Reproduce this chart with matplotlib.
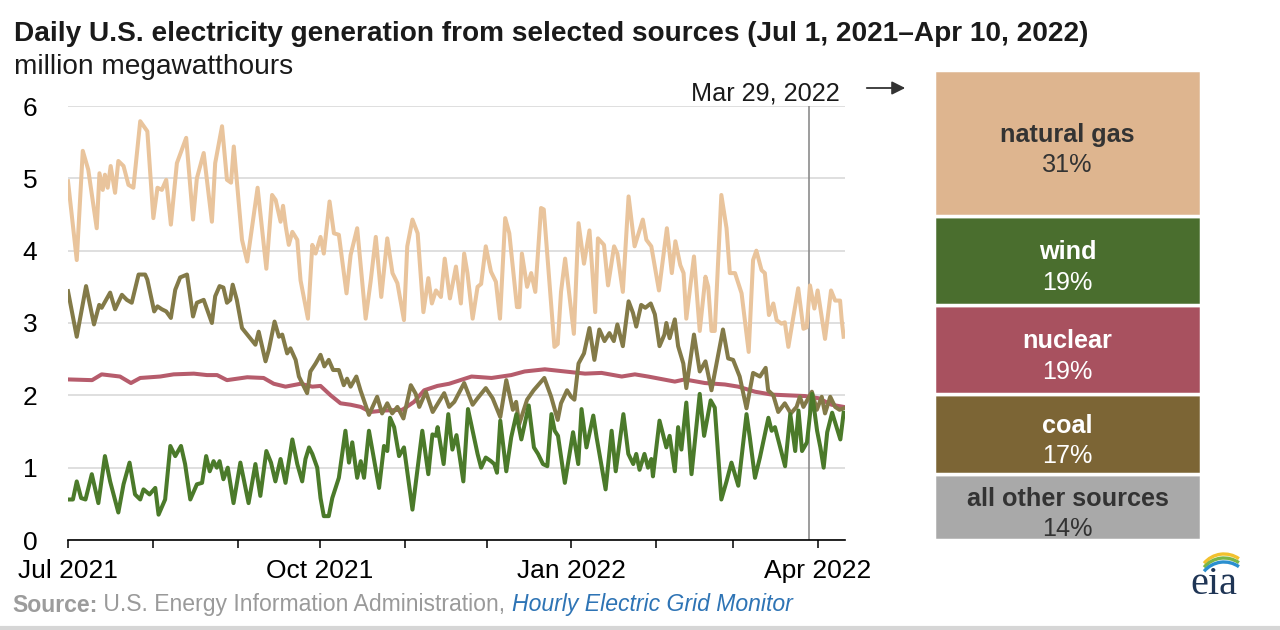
import numpy as np
import pandas as pd
import matplotlib
matplotlib.use("Agg")
import matplotlib.pyplot as plt
import matplotlib.dates as mdates
from matplotlib.patches import Arc

plt.rcParams['font.family'] = ['Liberation Sans', 'DejaVu Sans']

# readings taken off the reference chart: days after Jul 1, 2021 and million MWh
gas_day = [0, 3.2, 5.4, 7.4, 10.5, 11.5, 12.7, 13.5, 14.5, 15.6,
           17.2, 18.4, 20.3, 22.1, 23.9, 26.4, 29, 31.2, 32.7, 34.3,
           35.9, 37.6, 39.8, 43.2, 45.7, 47.1, 49.6, 52.6, 53.8, 56.3,
           58.1, 59.6, 60.6, 63.6, 65.5, 69.3, 72.5, 74.6, 75.9, 77.7,
           78.6, 79.6, 80.7, 82, 83.8, 85, 87.7, 89.3, 90.5, 92.3,
           93.5, 95.6, 97.2, 99, 101.8, 103.3, 105.7, 108.8, 110.6, 112.5,
           114.5, 116.7, 118.6, 120.4, 122.8, 124, 125.9, 127.8, 129.9, 131.7,
           133, 134.5, 136.3, 137.7, 139.6, 141.8, 143.6, 144.8, 146, 147.9,
           149.7, 151, 152.7, 154.6, 156.4, 157.9, 159.8, 161.3, 164.1, 165,
           165.9, 167.8, 169.3, 170.8, 172.9, 173.9, 177.8, 179, 180.2, 181.7,
           184.9, 186.6, 188.6, 190.6, 192.7, 193.7, 195.9, 197.4, 199.6, 200.8,
           202.8, 204.9, 207.1, 210.1, 211.4, 213.2, 214.5, 216, 218.9, 220.7,
           222, 223.8, 225, 226, 228.8, 230.9, 233, 234, 235.2, 236.4,
           238.8, 240.7, 241.9, 243.8, 246.2, 248.8, 250.4, 251.6, 253.5, 254.7,
           256.2, 257.8, 259, 260.8, 262, 263.3, 265.1, 266.9, 268.8, 270,
           271.2, 272.8, 274, 276.7, 278.9, 280.4, 282.2, 282.8, 283.5]
gas_val = [4.96, 3.87, 5.38, 5.12, 4.31, 5.07, 4.84, 5.05, 4.87, 5.17,
           4.80, 5.24, 5.17, 4.91, 4.87, 5.79, 5.65, 4.45, 4.87, 4.84,
           4.98, 4.36, 5.21, 5.56, 4.43, 5.0, 5.35, 4.40, 5.21, 5.72,
           4.98, 4.94, 5.44, 4.15, 3.85, 4.87, 3.75, 4.77, 4.70, 4.40,
           4.62, 4.33, 4.08, 4.26, 4.15, 3.59, 3.06, 4.08, 3.96, 4.19,
           3.96, 4.68, 4.24, 4.22, 3.41, 3.94, 4.31, 3.06, 3.57, 4.19,
           3.36, 4.17, 3.69, 3.55, 3.04, 4.06, 4.43, 4.24, 3.15, 3.62,
           3.27, 3.45, 3.36, 3.89, 3.34, 3.78, 3.27, 3.96, 3.69, 3.06,
           3.50, 3.54, 4.06, 3.71, 3.57, 3.06, 4.45, 4.24, 3.22, 3.22,
           3.96, 3.50, 3.69, 3.43, 4.59, 4.57, 2.67, 2.71, 3.43, 3.89,
           2.85, 4.38, 3.82, 4.28, 3.15, 4.17, 4.08, 3.52, 4.06, 3.96,
           3.43, 4.75, 4.06, 4.43, 4.15, 4.06, 3.78, 3.45, 4.31, 3.69,
           4.13, 3.80, 3.69, 3.06, 3.92, 2.89, 3.64, 3.50, 2.89, 2.89,
           4.77, 4.31, 3.69, 3.69, 3.41, 2.60, 3.87, 4.0, 3.73, 3.69,
           3.11, 3.27, 3.04, 2.99, 3.01, 2.67, 3.08, 3.48, 2.92, 2.94,
           3.52, 3.20, 3.45, 2.78, 3.45, 3.31, 3.31, 3.04, 2.81]

coal_day = [0, 3.2, 6.6, 9.5, 11.4, 12.3, 15.4, 17.2, 19.7, 21.5,
            23.3, 25.8, 28.2, 29, 31.5, 32.7, 34.3, 35.9, 37.6, 39.2,
            41, 43.5, 45.7, 47.1, 49.6, 52.6, 53.8, 55.4, 56.8, 58.1,
            59.3, 60.2, 61.7, 63.6, 65.5, 68.5, 69.7, 72.2, 73.4, 75.5,
            77.1, 78.3, 80.1, 81.3, 83.2, 84.4, 87.4, 88.6, 90.5, 92.3,
            93.7, 95.3, 96.9, 99, 100.8, 102, 103.3, 105.4, 106.9, 110,
            113, 114.8, 116.7, 118.5, 120.4, 122.6, 125.3, 127.1, 128.4, 130.8,
            133.3, 137.5, 139.3, 141.2, 144.8, 147.9, 149.7, 152.7, 155.2, 158,
            160.2, 162.6, 163.8, 164.9, 167.8, 170.2, 174.1, 176.6, 179, 180.2,
            182.4, 183.9, 185.1, 186.6, 188.6, 190.6, 192.4, 194.2, 196.1, 197.9,
            199.5, 200.8, 202.8, 204.9, 206.5, 207.7, 209.5, 211, 213, 214.5,
            216.2, 218, 218.7, 219.9, 221.8, 223, 224.9, 226, 228.8, 230.9,
            233, 235.2, 239.4, 241.3, 243.1, 245.5, 248, 250.4, 252.9, 255,
            255.9, 257.8, 259.6, 262, 264.2, 266.3, 267.5, 268.8, 270.6, 271.9,
            273.7, 275.5, 276.7, 278.6, 280.4, 282, 283.5]
coal_val = [3.44, 2.81, 3.51, 2.98, 3.25, 3.21, 3.42, 3.19, 3.39, 3.32,
            3.28, 3.67, 3.67, 3.60, 3.16, 3.23, 3.19, 3.16, 3.07, 3.46,
            3.63, 3.67, 3.09, 3.28, 3.32, 3.0, 3.37, 3.51, 3.49, 3.28,
            3.32, 3.53, 3.32, 2.93, 2.84, 2.70, 2.88, 2.47, 2.63, 3.02,
            2.81, 2.84, 2.58, 2.65, 2.49, 2.26, 2.03, 2.33, 2.44, 2.56,
            2.40, 2.49, 2.35, 2.35, 2.14, 2.23, 2.12, 2.26, 2.07, 1.73,
            1.98, 1.75, 1.89, 1.75, 1.84, 1.68, 2.14, 2.02, 1.84, 2.05,
            1.77, 2.03, 1.84, 1.91, 2.17, 1.87, 1.96, 2.10, 1.96, 1.70,
            2.21, 1.80, 1.91, 1.60, 1.94, 2.07, 2.24, 1.98, 1.66, 1.89,
            2.07, 1.98, 1.94, 2.44, 2.58, 2.93, 2.49, 2.91, 2.75, 2.86,
            2.75, 2.98, 2.68, 3.30, 3.14, 2.95, 3.25, 3.21, 3.27, 3.12,
            2.68, 2.84, 3.0, 2.79, 3.05, 2.68, 2.44, 2.10, 2.84, 2.33,
            2.47, 2.07, 2.91, 2.51, 2.49, 2.26, 1.82, 2.31, 2.26, 2.38,
            2.07, 2.0, 1.77, 1.89, 1.75, 1.84, 1.98, 1.84, 1.96, 2.05,
            1.80, 1.98, 1.75, 1.98, 1.84, 1.80, 1.82]

nuc_day = [0, 8.8, 12.3, 19, 23, 26.4, 33.7, 38.6, 46, 50.8,
           54.5, 58.1, 65.5, 71.5, 75.2, 79.5, 85, 89.3, 92.3, 96,
           99.6, 103.3, 107, 110.6, 115.5, 122.2, 126.5, 130.2, 135, 139.3,
           147.5, 154.8, 162, 166.9, 174.3, 181.6, 189, 195, 202.4, 207.2,
           212, 221.8, 225.4, 232.8, 240.1, 245, 251.1, 257.2, 263.3, 269.4,
           274.3, 279.1, 283.5]
nuc_val = [2.22, 2.21, 2.29, 2.26, 2.17, 2.24, 2.26, 2.29, 2.30, 2.28,
           2.28, 2.21, 2.25, 2.24, 2.16, 2.12, 2.16, 2.12, 2.13, 2.0,
           1.89, 1.87, 1.84, 1.77, 1.79, 1.80, 1.91, 2.07, 2.13, 2.16,
           2.26, 2.24, 2.28, 2.33, 2.36, 2.33, 2.30, 2.31, 2.26, 2.29,
           2.26, 2.19, 2.22, 2.17, 2.15, 2.12, 2.05, 2.01, 2.0, 1.99,
           1.96, 1.87, 1.84]

wind_day = [0, 1.8, 3.2, 4.8, 6.4, 8.7, 11.1, 13.5, 15.4, 18.4,
            20.3, 22.5, 24.5, 26.4, 27.6, 29.8, 31.9, 33.1, 35.5, 37.4,
            39.2, 41.3, 42.8, 44.7, 47.1, 49, 50.5, 51.8, 53.2, 54.4,
            55.4, 56.8, 58.4, 60.5, 63, 66, 68.5, 70.3, 72.5, 74.2,
            75.8, 77.7, 79.5, 82, 83.8, 85.6, 86.8, 88.1, 89.3, 91.1,
            92.3, 93.5, 95.3, 96.6, 99, 101.4, 102.7, 103.9, 105.7, 107,
            108.2, 110, 113.7, 115.5, 116.7, 117.7, 119.2, 121, 122.8, 125.9,
            129.5, 131.7, 133.2, 134.5, 135.1, 137.3, 139, 140.5, 142, 144.5,
            146.2, 147.9, 149.7, 151, 152.7, 154.6, 155.8, 156.8, 158, 160.2,
            162, 163.9, 165.7, 168.4, 170.3, 171.8, 173.6, 175.2, 176.7, 177.9,
            179.1, 181.6, 184.6, 186.5, 187.7, 189.5, 192, 193.2, 196.5, 198.7,
            200.2, 203, 204.8, 206.6, 207.7, 208.9, 210.7, 212, 213.2, 213.8,
            216.2, 218.7, 219.9, 221.8, 223, 224.2, 226, 227.9, 230.9, 232.5,
            234.9, 236.4, 238.8, 240.7, 242.5, 245, 248, 249.2, 251.1, 252.9,
            256, 257.2, 258.4, 262.1, 264, 265.8, 267, 268.3, 270.1, 272,
            273.8, 275, 276.2, 277.5, 279.3, 282.3, 283.5]
wind_val = [0.56, 0.56, 0.81, 0.58, 0.56, 0.91, 0.51, 1.16, 0.81, 0.38,
            0.77, 1.07, 0.63, 0.56, 0.70, 0.63, 0.72, 0.35, 0.56, 1.30,
            1.16, 1.30, 1.05, 0.56, 0.77, 0.79, 1.16, 0.95, 1.09, 1.0,
            1.09, 0.84, 1.0, 0.51, 1.07, 0.51, 1.05, 0.61, 1.23, 1.07,
            0.81, 1.12, 0.79, 1.39, 1.05, 0.81, 1.12, 1.28, 1.19, 1.0,
            0.58, 0.33, 0.33, 0.58, 0.86, 1.51, 1.07, 1.35, 0.86, 1.09,
            0.86, 1.51, 0.72, 1.30, 1.23, 1.69, 1.56, 1.16, 1.28, 0.42,
            1.51, 0.91, 1.46, 1.44, 1.56, 1.05, 1.74, 1.25, 1.45, 0.81,
            1.81, 1.51, 1.19, 1.0, 1.14, 1.09, 1.05, 0.93, 1.65, 0.95,
            1.42, 1.74, 1.39, 1.86, 1.28, 1.19, 1.05, 1.02, 1.74, 1.51,
            1.44, 0.79, 1.49, 1.05, 1.81, 1.28, 1.72, 1.42, 0.70, 1.51,
            0.95, 1.74, 1.19, 1.05, 1.19, 0.97, 1.19, 1.0, 1.12, 0.88,
            1.65, 1.28, 1.44, 0.95, 1.56, 1.25, 1.90, 0.91, 2.02, 1.44,
            1.93, 1.83, 0.56, 0.81, 1.07, 0.75, 1.74, 1.42, 0.86, 1.14,
            1.69, 1.51, 1.56, 1.02, 1.74, 1.23, 1.79, 1.23, 1.35, 2.02,
            1.51, 1.28, 1.0, 1.49, 1.76, 1.39, 1.76]

# generation shares on Mar 29, 2022 (bottom to top)
share_names = ["all other sources", "coal", "nuclear", "wind", "natural gas"]
share_pct = [14, 17, 19, 19, 31]

start = pd.Timestamp("2021-07-01")
marker_date = pd.Timestamp("2022-03-29")
end_date = pd.Timestamp("2022-04-11")

W, H = 1280, 630
fig = plt.figure(figsize=(W / 100, H / 100), dpi=100)


def dates(days):
    return start + pd.to_timedelta(np.array(days), unit="D")


ax = fig.add_axes([68 / W, 1 - 540 / H, (845 - 68) / W, (540 - 106) / H])
ax.plot(dates(gas_day), gas_val, color="#e9c49c", lw=2.9, solid_joinstyle="round")
ax.plot(dates(nuc_day), nuc_val, color="#b65c6c", lw=2.9, solid_joinstyle="round")
ax.plot(dates(coal_day), coal_val, color="#837a48", lw=2.9, solid_joinstyle="round")
ax.plot(dates(wind_day), wind_val, color="#4b7a2a", lw=2.9, solid_joinstyle="round")
ax.axvline(marker_date, color="#8c8c8c", lw=1.2, zorder=1)

ax.set_ylim(0, 6)
ax.set_xlim(start, end_date)
ax.set_yticks(range(7))
ax.grid(axis="y", color="#d9d9d9", lw=1.2)
ax.set_axisbelow(True)
for s in ["top", "right", "left"]:
    ax.spines[s].set_visible(False)
ax.spines["bottom"].set_color("black")
ax.spines["bottom"].set_linewidth(1.2)
ax.xaxis.set_major_locator(mdates.MonthLocator(bymonth=[1, 4, 7, 10]))
ax.xaxis.set_major_formatter(mdates.DateFormatter("%b %Y"))
ax.xaxis.set_minor_locator(mdates.MonthLocator())
ax.tick_params(axis="x", which="both", length=6, width=1.1, color="black")
ax.tick_params(axis="x", which="major", labelsize=19, pad=8)
ax.tick_params(axis="y", length=0, labelsize=19, pad=22)

# titles
fig.text(14 / W, 1 - 34 / H,
         "Daily U.S. electricity generation from selected sources (Jul 1, 2021\u2013Apr 10, 2022)",
         fontsize=20.2, weight="bold", va="center", color="#1a1a1a")
fig.text(14 / W, 1 - 67 / H, "million megawatthours", fontsize=20.2, va="center", color="#1a1a1a")

# marker label + arrow
fig.text(840 / W, 1 - 93 / H, "Mar 29, 2022", fontsize=18.2, ha="right", va="center", color="#1a1a1a")
fig.patches.append(matplotlib.patches.FancyArrowPatch(
    (864 / W, 1 - 88 / H), (908 / W, 1 - 88 / H), transform=fig.transFigure,
    arrowstyle="-|>", mutation_scale=20, color="#333333", lw=1.3))

# share panel
pax = fig.add_axes([934 / W, 1 - 540 / H, 267 / W, 470 / H])
box_colors = ["#a9a9a9", "#7c6535", "#a8515f", "#4a6e2e", "#deb58f"]
text_colors = ["#333333", "white", "white", "white", "#333333"]
bottom = 0
for name, pct, bc, tc in zip(share_names, share_pct, box_colors, text_colors):
    pax.bar(0, pct, bottom=bottom, width=1, color=bc, edgecolor="white", linewidth=2.5)
    mid = bottom + pct / 2
    pax.annotate(name, (0, mid), xytext=(0, 6), textcoords="offset points",
                 ha="center", va="center", fontsize=18.2, weight="bold", color=tc)
    pax.annotate(f"{pct}%", (0, mid), xytext=(0, -16), textcoords="offset points",
                 ha="center", va="center", fontsize=18.2, color=tc)
    bottom += pct
pax.set_xlim(-0.5, 0.5)
pax.set_ylim(0, 100)
pax.axis("off")

# source line
fig.canvas.draw()
r = fig.canvas.get_renderer()
x = 12
parts = [("Source:", dict(weight="bold", color="#9c9c9c")),
         (" U.S. Energy Information Administration, ", dict(color="#9a9a9a")),
         ("Hourly Electric Grid Monitor", dict(style="italic", color="#2e74b5"))]
for txt, kw in parts:
    t = fig.text(x / W, 1 - 605 / H, txt, fontsize=16.6, va="center", **kw)
    bb = t.get_window_extent(r)
    x += bb.width

# bottom rule
fig.add_artist(plt.Line2D([0, 1], [2 / H, 2 / H], transform=fig.transFigure, color="#d6d6d6", lw=3))

# eia logo
lax = fig.add_axes([1180 / W, 1 - 600 / H, 70 / W, 60 / H])
lax.set_xlim(0, 70)
lax.set_ylim(0, 60)
lax.set_aspect("equal")
lax.axis("off")
for dy, col in [(0, "#f2c12e"), (-4, "#7ab648"), (-8, "#2a8fcf")]:
    lax.add_patch(Arc((44, 20 + dy), 52, 52, theta1=55, theta2=140, color=col, lw=2.4))
lax.text(34, 16, "eia", fontsize=29, family="Liberation Serif", color="#1f3555",
         ha="center", va="center")

fig.savefig("out.png", dpi=100)
